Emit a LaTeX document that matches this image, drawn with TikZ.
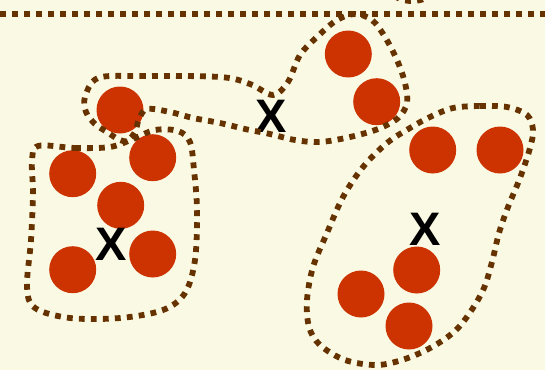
\documentclass[tikz,border=0pt]{standalone}
\usepackage{fontspec}
\newfontfamily\xfont{Liberation Sans}
\definecolor{bgc}{RGB}{250,250,228}
\definecolor{dotc}{RGB}{102,51,0}
\definecolor{ballc}{RGB}{204,51,0}
\begin{document}
\begin{tikzpicture}[x=1pt,y=-1pt,
  ball/.style={circle,fill=ballc,draw=none,minimum size=47pt,inner sep=0pt},
  cross/.style={font=\xfont\fontsize{47}{47}\selectfont\bfseries,inner sep=0pt,text=black},
  dotline/.style={draw=dotc,line width=5.8pt,dash pattern=on 5.8pt off 6.2pt}]
\fill[bgc] (0,0) rectangle (545,370);
\useasboundingbox (0,0) rectangle (545,370);
% balls
\node[ball] (b1) at (120,110) {};
\node[ball] (b2) at (152.7,157.7) {};
\node[ball] (b3) at (72.7,173.7) {};
\node[ball] (b4) at (120.7,205.3) {};
\node[ball] (b5) at (152.7,254) {};
\node[ball] (b6) at (72.7,269.7) {};
\node[ball] (b7) at (348.3,54) {};
\node[ball] (b8) at (376.7,101.7) {};
\node[ball] (b9) at (432.7,150) {};
\node[ball] (b10) at (500,150) {};
\node[ball] (b11) at (416.7,270) {};
\node[ball] (b12) at (361,294) {};
\node[ball] (b13) at (409,326) {};
% crosses
\node[cross] (x1) at (111.3,244.7) {X};
\node[cross] (x2) at (270.7,116.7) {X};
\node[cross] (x3) at (425.3,229.8) {X};
% top line
\coordinate (l0) at (0,14);
\coordinate (l1) at (548,14);
\draw[dotline] (l0) -- (l1);
% blobs
\draw[dotline] plot[smooth cycle,tension=0.55] coordinates {
 (38,146) (75,148) (110,147) (133,139) (155,130) (178,131) (190,142)
 (194,170) (197,210) (195,260) (185,293) (163,310) (120,318) (70,318)
 (35,308) (27,287) (31,240) (33,193) (32,162)};
\draw[dotline] plot[smooth cycle,tension=0.55] coordinates {
 (98,78) (140,76) (220,77) (250,84) (273,95) (288,82) (300,55) (318,36)
 (337,20) (355,14) (372,20) (385,37) (397,60) (405,83) (407,103) (398,118)
 (378,129) (350,137) (320,142) (295,140) (270,134) (245,129) (220,123)
 (193,118) (170,112) (147,109) (139,119) (135,132) (127,141) (118,139)
 (107,132) (95,124) (86,112) (85,97)};
\draw[dotline] plot[smooth cycle,tension=0.55] coordinates {
 (453,108) (480,106) (507,107) (527,115) (533,130) (530,148) (520,178)
 (508,207) (499,233) (492,262) (484,288) (471,311) (455,331) (432,347)
 (405,359) (377,365) (345,360) (320,345) (309,327) (307,300) (313,267)
 (327,233) (343,197) (363,167) (387,143) (410,128) (430,117)};
\draw[dotline] plot[smooth,tension=0.6] coordinates {
 (385,-12) (398,-2) (412,1) (426,-2) (438,-12)};
\end{tikzpicture}
\end{document}
